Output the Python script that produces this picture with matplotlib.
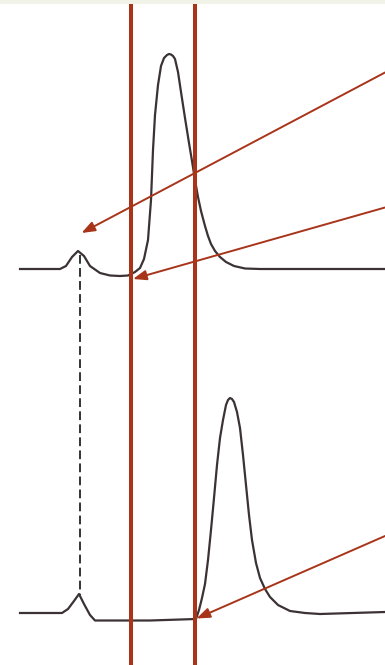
import matplotlib
matplotlib.use("Agg")
import matplotlib.pyplot as plt

# chromatogram traces, in picture units (x right, y down)
top_x = [20, 60, 66, 72, 78, 84, 90, 100, 110, 120, 128, 135, 140, 144, 148, 151, 153, 155,
         158, 161, 164, 167, 169, 171, 173, 175, 178, 181, 185, 189, 192, 195, 198, 201, 205,
         208, 211, 215, 220, 226, 234, 245, 260, 300, 385]
top_y = [269, 269, 266, 257, 251, 256, 266, 273, 275.5, 276, 275.5, 272, 268, 259, 240, 200, 150, 115,
         85, 66, 58, 55, 54, 54.5, 56, 59, 72, 92, 118, 143, 161, 180, 197, 211, 226,
         236, 244, 251, 257, 262, 266, 268.5, 269, 269, 269]

bot_x = [20, 62, 68, 74, 79, 84, 90, 95, 100, 150, 196, 199, 202, 205, 208, 211, 214, 217, 220,
         223, 226, 228, 230, 232, 234, 237, 240, 243, 246, 249, 252, 256, 260, 265, 270, 278, 290,
         305, 320, 385]
bot_y = [613, 613, 609, 601, 594, 604, 615, 620.5, 620.5, 620.5, 619, 610, 598, 584, 560, 530, 498, 465, 438,
         420, 405, 400, 398, 399, 402, 412, 428, 455, 485, 515, 540, 563, 578, 589, 597, 605, 611,
         613, 614, 612]

# vertical markers and the dashed link between the small peaks
marker_x = [131, 195]
link_x = 80
link_y = [255, 595]

# arrows: (tail, head)
arrows = [((385, 72.5), (81.5, 233)),
          ((385, 207.5), (133, 279)),
          ((385, 536), (196.5, 618.5))]

red = "#a8341a"
trace = "#3b3234"

fig = plt.figure(figsize=(3.85, 6.65), dpi=100)
ax = fig.add_axes([0, 0, 1, 1])
ax.set_xlim(0, 385)
ax.set_ylim(665, 0)
ax.axis("off")

ax.axhspan(0, 4, color="#f1f3e8", lw=0)

ax.plot([link_x, link_x], link_y, color="#333333", lw=1.4, dashes=(4.5, 2.2))
ax.plot(top_x, top_y, color=trace, lw=1.6, solid_joinstyle="round")
ax.plot(bot_x, bot_y, color=trace, lw=1.6, solid_joinstyle="round")

ax.vlines(marker_x, 4, 665, color=red, lw=2.9)

for tail, head in arrows:
    ax.annotate("", xy=head, xytext=tail,
                arrowprops=dict(arrowstyle="-|>,head_length=0.8,head_width=0.3",
                                color=red, lw=1.4, shrinkA=0, shrinkB=0))

fig.savefig("out.png", dpi=100)
